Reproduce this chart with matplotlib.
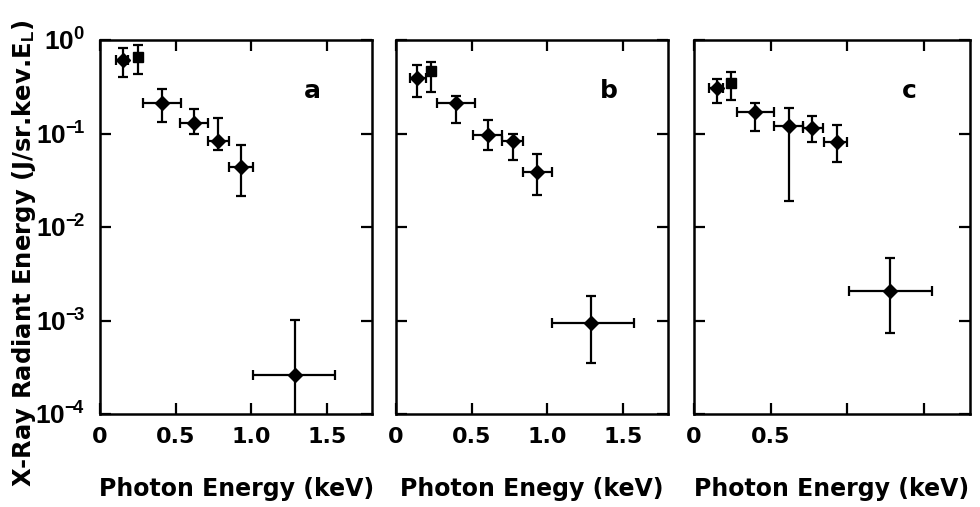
#Recreating the three panel X-ray radiant energy spectra
import matplotlib
matplotlib.use('Agg')
import matplotlib.pyplot as plt
import numpy as np

plt.rcParams['font.family'] = 'DejaVu Sans'
plt.rcParams['font.weight'] = 'bold'
plt.rcParams['mathtext.fontset'] = 'custom'
plt.rcParams['mathtext.rm'] = 'Liberation Sans:bold'
plt.rcParams['mathtext.bf'] = 'Liberation Sans:bold'
plt.rcParams['mathtext.default'] = 'bf'

#Panel a data (keV, J/sr.keV.E_L) with error bar bounds
a_x = [0.155, 0.253, 0.41, 0.62, 0.78, 0.933, 1.29]
a_y = [0.61, 0.66, 0.214, 0.131, 0.084, 0.0435, 2.6e-4]
a_ylo = [0.40, 0.43, 0.134, 0.10, 0.067, 0.0214, 5e-5]
a_yhi = [0.82, 0.885, 0.30, 0.185, 0.148, 0.0746, 1.02e-3]
a_xlo = [0.107, 0.253, 0.285, 0.527, 0.713, 0.85, 1.01]
a_xhi = [0.187, 0.253, 0.533, 0.715, 0.85, 1.01, 1.55]

#Panel b data
b_x = [0.14, 0.235, 0.395, 0.61, 0.776, 0.934, 1.29]
b_y = [0.394, 0.47, 0.214, 0.097, 0.084, 0.039, 9.5e-4]
b_ylo = [0.248, 0.28, 0.131, 0.066, 0.052, 0.022, 3.5e-4]
b_yhi = [0.54, 0.58, 0.254, 0.14, 0.10, 0.06, 1.85e-3]
b_xlo = [0.09, 0.235, 0.27, 0.51, 0.70, 0.84, 1.03]
b_xhi = [0.20, 0.235, 0.52, 0.70, 0.84, 1.03, 1.57]

#Panel c data
c_x = [0.15, 0.24, 0.40, 0.617, 0.767, 0.93, 1.28]
c_y = [0.31, 0.35, 0.171, 0.122, 0.116, 0.082, 2.1e-3]
c_ylo = [0.21, 0.23, 0.107, 0.019, 0.082, 0.05, 7.3e-4]
c_yhi = [0.385, 0.45, 0.214, 0.19, 0.155, 0.125, 4.7e-3]
c_xlo = [0.10, 0.24, 0.28, 0.52, 0.71, 0.845, 1.01]
c_xhi = [0.19, 0.24, 0.52, 0.71, 0.84, 1.00, 1.55]

panel_names = ['a', 'b', 'c']
xlabels = ['Photon Energy (keV)', 'Photon Enegy (keV)', 'Photon Energy (keV)']
xtick_vals = [0, 0.5, 1.0, 1.5]
xtick_text = [['0', '0.5', '1.0', '1.5'], ['0', '0.5', '1.0', '1.5'], ['0', '0.5', '', '']]
ytick_vals = [1e-4, 1e-3, 1e-2, 1e-1, 1e0]
ytick_text = [r'$10^{-\!4}$', r'$10^{-\!3}$', r'$10^{-\!2}$',
              r'$10^{-\!1}$', r'$10^{0}$']

data = [(a_x, a_y, a_ylo, a_yhi, a_xlo, a_xhi),
        (b_x, b_y, b_ylo, b_yhi, b_xlo, b_xhi),
        (c_x, c_y, c_ylo, c_yhi, c_xlo, c_xhi)]

fig = plt.figure(figsize=(9.8, 5.07), dpi=100)
lefts = [0.102, 0.404, 0.708]
widths = [0.278, 0.278, 0.282]

for i in range(3):
    ax = fig.add_axes([lefts[i], 0.183, widths[i], 0.738])
    x, y, ylo, yhi, xlo, xhi = [np.array(v) for v in data[i]]
    yerr = [y - ylo, yhi - y]
    xerr = [x - xlo, xhi - x]
    ax.errorbar(x, y, yerr=yerr, xerr=xerr, fmt='none', ecolor='black',
                elinewidth=1.6, capsize=3.5, capthick=1.6)
    #Diamonds for all points except the second one, which is a square
    idx = [0, 2, 3, 4, 5, 6]
    ax.plot(x[idx], y[idx], linestyle='none', marker='D', color='black', markersize=7)
    ax.plot(x[1], y[1], linestyle='none', marker='s', color='black', markersize=7)

    ax.set_yscale('log')
    ax.set_ylim(1e-4, 1e0)
    ax.set_xlim(0, 1.8)
    ax.set_xticks(xtick_vals)
    ax.set_xticklabels(xtick_text[i], fontsize=16, fontweight='bold')
    ax.set_yticks(ytick_vals)
    if i == 0:
        ax.set_yticklabels(ytick_text, fontsize=19, va='center_baseline')
    else:
        ax.set_yticklabels([])
    ax.yaxis.set_minor_locator(matplotlib.ticker.NullLocator())
    ax.tick_params(which='both', direction='in', top=True, right=True,
                   length=8, width=1.6)
    ax.tick_params(axis='x', pad=9)
    ax.tick_params(axis='y', pad=11)
    for s in ax.spines.values():
        s.set_linewidth(1.8)
    ax.set_xlabel(xlabels[i], fontsize=17, fontweight='bold', labelpad=22)
    ax.text(0.78, 0.865, panel_names[i], transform=ax.transAxes,
            fontsize=18, fontweight='bold', ha='center', va='center')

fig.text(0.025, 0.5, r'X-Ray Radiant Energy (J/sr.kev.E$_L$)', rotation=90,
         fontsize=17.5, fontweight='bold', ha='center', va='center')

plt.savefig('out.png', dpi=100, facecolor='white')
